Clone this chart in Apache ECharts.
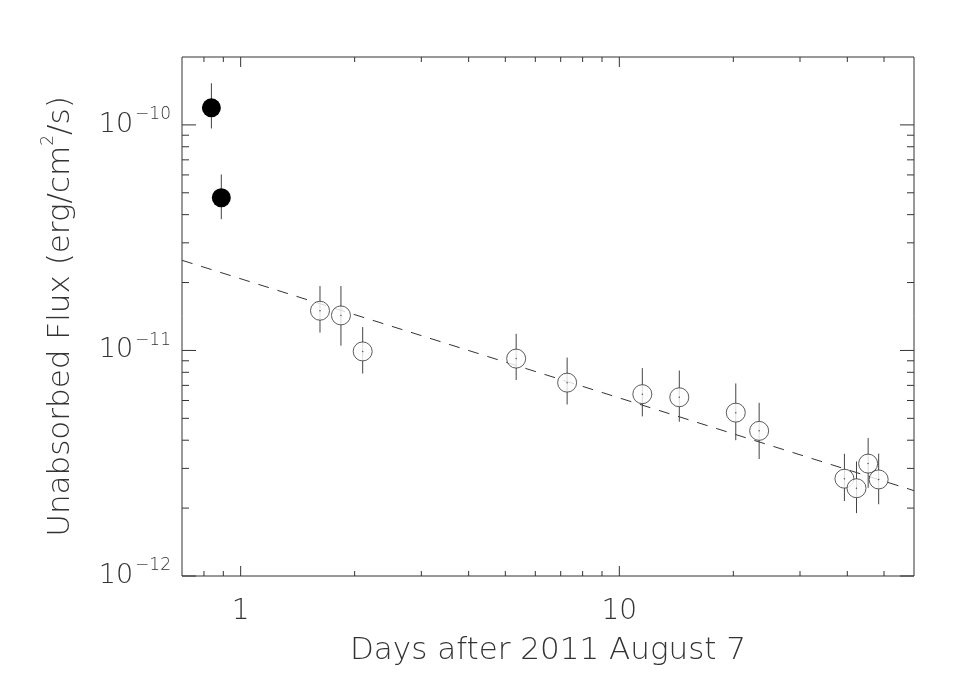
<!DOCTYPE html>
<html><head><meta charset="utf-8">
<script src="https://cdn.jsdelivr.net/npm/echarts@6/dist/echarts.min.js"></script>
<style>html,body{margin:0;padding:0;background:#fff}#c{width:969px;height:692px}</style>
</head><body><div id="c"></div>
<script>
// ---- data ----
const filledX  = [0.837, 0.889];
const filledY  = [1.19e-10, 4.75e-11];
const filledLo = [0.964e-10, 3.82e-11];
const filledHi = [1.53e-10, 6.03e-11];

const openX  = [1.62, 1.84, 2.10, 5.34, 7.28, 11.5, 14.4, 20.3, 23.4, 39.3, 42.3, 45.4, 48.4];
const openY  = [1.50e-11, 1.43e-11, 0.99e-11, 0.92e-11, 0.72e-11, 0.64e-11, 0.62e-11, 0.53e-11, 0.44e-11, 0.27e-11, 0.245e-11, 0.315e-11, 0.268e-11];
const openLo = [1.20e-11, 1.05e-11, 0.79e-11, 0.74e-11, 0.576e-11, 0.51e-11, 0.483e-11, 0.40e-11, 0.33e-11, 0.215e-11, 0.19e-11, 0.246e-11, 0.208e-11];
const openHi = [1.93e-11, 1.93e-11, 1.27e-11, 1.185e-11, 0.93e-11, 0.835e-11, 0.815e-11, 0.714e-11, 0.586e-11, 0.348e-11, 0.322e-11, 0.409e-11, 0.349e-11];

const fitX = [0.7, 60];
const fitY = [2.51e-11, 2.39e-12];

const xMajorTicks = [1, 10];
const xMinorTicks = [0.8, 0.9, 2, 3, 4, 5, 6, 7, 8, 9, 20, 30, 40, 50];
const yMajorTicks = [1e-12, 1e-11, 1e-10];
const yMinorTicks = [2e-12, 3e-12, 4e-12, 5e-12, 6e-12, 7e-12, 8e-12, 9e-12,
                     2e-11, 3e-11, 4e-11, 5e-11, 6e-11, 7e-11, 8e-11, 9e-11];

const X_MIN = 0.7, X_MAX = 60, Y_MIN = 1e-12, Y_MAX = 2e-10;
const xTitle = 'Days after 2011 August 7';

// ---- chart ----
const FONT = 'DejaVu Sans';
const TXT = '#333';
const chart = echarts.init(document.getElementById('c'), null, {renderer: 'canvas'});

function isPow10(v) { const l = Math.log10(v); return Math.abs(l - Math.round(l)) < 1e-6; }

const xTickData = xMajorTicks.map(v => [v, Y_MIN, 1]).concat(xMinorTicks.map(v => [v, Y_MIN, 0]));
const yTickData = yMajorTicks.map(v => [X_MIN, v, 1]).concat(yMinorTicks.map(v => [X_MIN, v, 0]));

function line(x1, y1, x2, y2, color) {
  return {type: 'line', shape: {x1, y1, x2, y2}, style: {stroke: color || '#333', lineWidth: 1}};
}

const option = {
  animation: false,
  backgroundColor: '#fff',
  grid: {left: 182, top: 57, width: 732, height: 519, show: true, borderColor: '#333', borderWidth: 1, backgroundColor: 'transparent'},
  xAxis: {
    type: 'log', logBase: 10, min: X_MIN, max: X_MAX,
    axisLine: {show: false}, axisTick: {show: false}, splitLine: {show: false}, minorTick: {show: false},
    axisLabel: {
      formatter: v => isPow10(v) ? String(Math.round(v)) : '',
      fontFamily: FONT, fontWeight: 200, fontSize: 28, color: TXT, margin: 22
    },
    name: xTitle, nameLocation: 'middle', nameGap: 59,
    nameTextStyle: {fontFamily: FONT, fontWeight: 200, fontSize: 31, color: TXT}
  },
  yAxis: {
    type: 'log', logBase: 10, min: Y_MIN, max: Y_MAX,
    axisLine: {show: false}, axisTick: {show: false}, splitLine: {show: false}, minorTick: {show: false},
    axisLabel: {
      formatter: v => isPow10(v) ? '{b|10}{s|\u2212' + (-Math.round(Math.log10(v))) + '}' : '',
      margin: 11,
      rich: {
        b: {fontFamily: FONT, fontWeight: 200, fontSize: 27, color: TXT, verticalAlign: 'middle', lineHeight: 27},
        s: {fontFamily: FONT, fontWeight: 200, fontSize: 17, color: TXT, verticalAlign: 'middle', lineHeight: 17, padding: [0, 0, 20, 2]}
      }
    },
    name: 'Unabsorbed Flux (erg/cm{s|2}/s)', nameLocation: 'middle', nameGap: 101, nameRotate: 90,
    nameTextStyle: {
      fontFamily: FONT, fontWeight: 200, fontSize: 31, color: TXT,
      rich: {
        s: {fontFamily: FONT, fontWeight: 200, fontSize: 17, color: TXT, verticalAlign: 'middle', padding: [0, 0, 24, 0]}
      }
    }
  },
  series: [
    {
      type: 'custom', name: 'xticks', data: xTickData, encode: {x: 0, y: 1}, z: 1, silent: true,
      renderItem: (params, api) => {
        const cs = params.coordSys;
        const x = api.coord([api.value(0), api.value(1)])[0];
        const len = api.value(2) ? 10 : 5;
        const b = cs.y + cs.height;
        return {type: 'group', children: [line(x, b, x, b - len), line(x, cs.y, x, cs.y + len)]};
      }
    },
    {
      type: 'custom', name: 'yticks', data: yTickData, encode: {x: 0, y: 1}, z: 1, silent: true,
      renderItem: (params, api) => {
        const cs = params.coordSys;
        const y = api.coord([api.value(0), api.value(1)])[1];
        const len = api.value(2) ? 14 : 7;
        const r = cs.x + cs.width;
        return {type: 'group', children: [line(cs.x, y, cs.x + len, y), line(r, y, r - len, y)]};
      }
    },
    {
      type: 'line', name: 'fit', data: fitX.map((x, i) => [x, fitY[i]]), symbol: 'none', z: 2, silent: true,
      lineStyle: {color: '#333', width: 1, type: [11, 9]}
    },
    {
      type: 'custom', name: 'errOpen', data: openX.map((x, i) => [x, openLo[i], openHi[i]]), encode: {x: 0, y: [1, 2]}, z: 3, silent: true,
      renderItem: (params, api) => {
        const a = api.coord([api.value(0), api.value(1)]);
        const b = api.coord([api.value(0), api.value(2)]);
        return line(a[0], a[1], b[0], b[1], '#444');
      }
    },
    {
      type: 'custom', name: 'errFilled', data: filledX.map((x, i) => [x, filledLo[i], filledHi[i]]), encode: {x: 0, y: [1, 2]}, z: 3, silent: true,
      renderItem: (params, api) => {
        const a = api.coord([api.value(0), api.value(1)]);
        const b = api.coord([api.value(0), api.value(2)]);
        return line(a[0], a[1], b[0], b[1], '#444');
      }
    },
    {
      type: 'scatter', name: 'open', data: openX.map((x, i) => [x, openY[i]]), symbol: 'circle', symbolSize: 19, z: 4, silent: true,
      itemStyle: {color: '#fff', borderColor: '#333', borderWidth: 1}
    },
    {
      type: 'scatter', name: 'openDot', data: openX.map((x, i) => [x, openY[i]]), symbol: 'circle', symbolSize: 1.5, z: 5, silent: true,
      itemStyle: {color: '#333'}
    },
    {
      type: 'scatter', name: 'filled', data: filledX.map((x, i) => [x, filledY[i]]), symbol: 'circle', symbolSize: 19, z: 5, silent: true,
      itemStyle: {color: '#000', opacity: 1}
    }
  ]
};
chart.setOption(option);
</script>
</body></html>
